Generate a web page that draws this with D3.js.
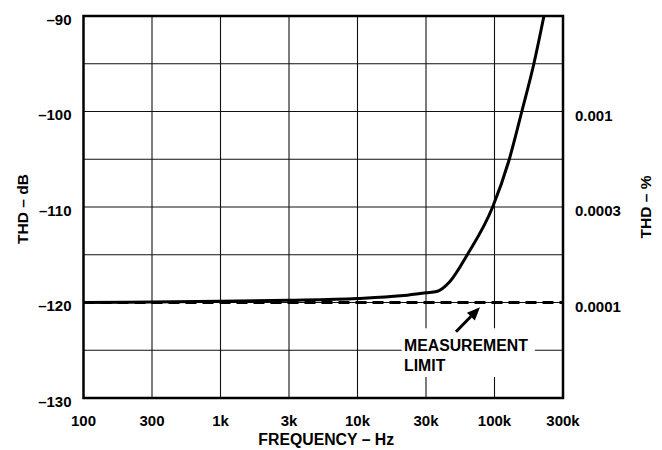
<!DOCTYPE html>
<html><head><meta charset="utf-8">
<script src="https://cdn.jsdelivr.net/npm/d3@7"></script>
<style>
body{margin:0;background:#fff;}
text{font-family:"Liberation Sans",Arial,sans-serif;font-weight:bold;fill:#000;}
</style></head>
<body><svg id="c" width="662" height="450"></svg>
<script>
// Data
const freqTicks = [100, 300, 1000, 3000, 10000, 30000, 100000, 300000];
const freqLabels = ["100", "300", "1k", "3k", "10k", "30k", "100k", "300k"];
const dbTicks = [-130, -120, -110, -100, -90];
const dbGrid = [-130, -125, -120, -115, -110, -105, -100, -95, -90];
const pctTickDb = [-100, -110, -120];
const pctLabels = ["0.001", "0.0003", "0.0001"];
const curveFreq = [100, 300, 1000, 3000, 10000, 20000, 30000, 36200, 45700, 62000, 96800, 126800, 155000, 188000, 221000];
const curveDb   = [-120, -119.95, -119.88, -119.77, -119.58, -119.3, -118.98, -118.85, -117.8, -115, -110, -105, -100, -95, -90];
const limitFreq = [100, 300000];
const limitDb = [-120, -120];

const L = 83.5, R = 563, T = 16, B = 398;
const svg = d3.select("#c");
const step = (R - L) / (freqTicks.length - 1);
const x = d3.scaleLog().domain(freqTicks).range(freqTicks.map((d, i) => L + i * step));
const y = d3.scaleLinear().domain([-130, -90]).range([B, T]);

// grid
const g = svg.append("g");
g.selectAll(".vg").data(freqTicks.slice(1, -1)).enter().append("line")
  .attr("x1", d => x(d)).attr("x2", d => x(d)).attr("y1", T).attr("y2", B)
  .attr("stroke", "#111").attr("stroke-width", 1.1);
g.selectAll(".hg").data(dbGrid.slice(1, -1)).enter().append("line")
  .attr("x1", L).attr("x2", R).attr("y1", d => y(d)).attr("y2", d => y(d))
  .attr("stroke", "#111").attr("stroke-width", 1.1);

// white box behind annotation
svg.append("rect")
  .attr("x", x(20300)).attr("y", y(-122.7))
  .attr("width", x(191000) - x(20300)).attr("height", y(-127.8) - y(-122.7))
  .attr("fill", "#fff");

// measurement limit dashed line
const line = d3.line().x(d => x(d[0])).y(d => y(d[1]));
svg.append("path").datum(limitFreq.map((f, i) => [f, limitDb[i]]))
  .attr("d", line).attr("fill", "none").attr("stroke", "#000")
  .attr("stroke-width", 3).attr("stroke-dasharray", "11,6");

// curve
svg.append("path").datum(curveFreq.map((f, i) => [f, curveDb[i]]))
  .attr("d", line.curve(d3.curveMonotoneX)).attr("fill", "none").attr("stroke", "#000")
  .attr("stroke-width", 3).attr("stroke-linejoin", "round");

// frame
svg.append("rect").attr("x", L).attr("y", T).attr("width", R - L).attr("height", B - T)
  .attr("fill", "none").attr("stroke", "#000").attr("stroke-width", 2.5);

// left tick labels
const fs = 15;
svg.selectAll(".yl").data(dbTicks).enter().append("text")
  .attr("x", L - 12).attr("y", d => y(d) + 8.5)
  .attr("text-anchor", "end").attr("font-size", fs)
  .text(d => "\u2013" + Math.abs(d));

// right tick labels
svg.selectAll(".rl").data(pctTickDb).enter().append("text")
  .attr("x", R + 12).attr("y", d => y(d) + 9)
  .attr("font-size", 15)
  .text((d, i) => pctLabels[i]);

// x tick labels
svg.selectAll(".xl").data(freqTicks).enter().append("text")
  .attr("x", d => x(d)).attr("y", 426)
  .attr("text-anchor", "middle").attr("font-size", fs)
  .text((d, i) => freqLabels[i]);

// axis titles
svg.append("text").attr("x", (L + R) / 2 + 3).attr("y", 445).attr("text-anchor", "middle")
  .attr("font-size", 15.8).text("FREQUENCY \u2013 Hz");
svg.append("text").attr("transform", `translate(27.5,${(T + B) / 2 + 2}) rotate(-90)`)
  .attr("text-anchor", "middle").attr("font-size", 15.5).text("THD \u2013 dB");
svg.append("text").attr("transform", `translate(650.5,${(T + B) / 2}) rotate(-90)`)
  .attr("text-anchor", "middle").attr("font-size", 15.5).text("THD \u2013 %");

// annotation
svg.append("text").attr("x", x(21100)).attr("y", y(-125) + 0.5).attr("font-size", 15.8).text("MEASUREMENT");
svg.append("text").attr("x", x(21100)).attr("y", y(-127.2)).attr("font-size", 15.8).text("LIMIT");
const ax1 = x(50800), ay1 = y(-123.06), ax2 = x(77500), ay2 = y(-120.5);
const ang = Math.atan2(ay2 - ay1, ax2 - ax1);
const hl = 13, hw = 5.5;
const bx = ax2 - hl * Math.cos(ang), by = ay2 - hl * Math.sin(ang);
svg.append("line").attr("x1", ax1).attr("y1", ay1).attr("x2", bx).attr("y2", by)
  .attr("stroke", "#000").attr("stroke-width", 3);
svg.append("path").attr("d", `M${ax2},${ay2}L${bx + hw * Math.sin(ang)},${by - hw * Math.cos(ang)}L${bx - hw * Math.sin(ang)},${by + hw * Math.cos(ang)}Z`)
  .attr("fill", "#000");
</script></body></html>
